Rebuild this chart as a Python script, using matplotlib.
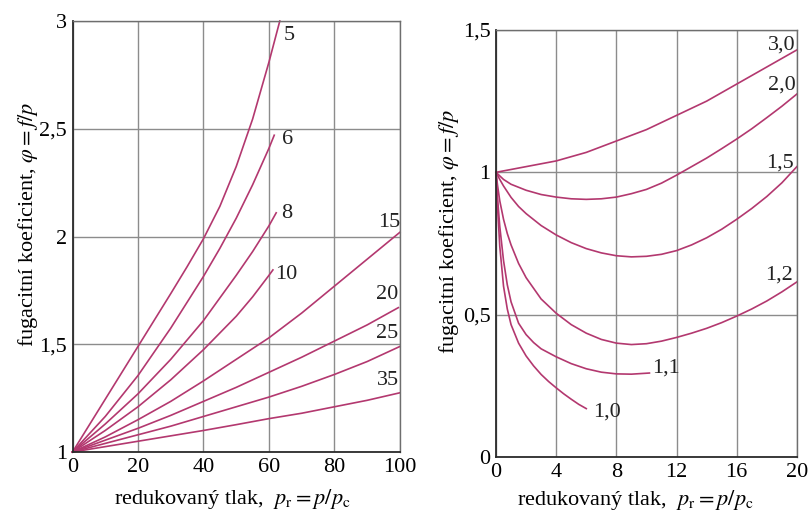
import numpy as np
import matplotlib
matplotlib.use("Agg")
import matplotlib.pyplot as plt

plt.rcParams['font.family'] = ['Liberation Serif', 'DejaVu Serif']
plt.rcParams['mathtext.fontset'] = 'stix'

# left panel: phi vs p_r for high reduced temperatures
left_curves = {
    "5":  ([0, 10, 20, 30, 35, 40, 45, 50, 55, 60, 63.3],
           [1.0, 1.245, 1.49, 1.735, 1.86, 1.99, 2.14, 2.325, 2.545, 2.81, 3.0]),
    "6":  ([0, 10, 20, 30, 40, 45, 50, 55, 60, 61.6],
           [1.0, 1.165, 1.355, 1.575, 1.815, 1.945, 2.085, 2.24, 2.41, 2.47]),
    "8":  ([0, 10, 20, 30, 40, 50, 55, 60, 62.2],
           [1.0, 1.13, 1.27, 1.43, 1.61, 1.82, 1.93, 2.05, 2.11]),
    "10": ([0, 10, 20, 30, 40, 50, 55, 60, 61.2],
           [1.0, 1.10, 1.21, 1.335, 1.475, 1.63, 1.72, 1.82, 1.845]),
    "15": ([0, 10, 20, 30, 40, 50, 60, 70, 80, 90, 100],
           [1.0, 1.07, 1.15, 1.235, 1.33, 1.43, 1.53, 1.645, 1.77, 1.895, 2.02]),
    "20": ([0, 10, 20, 30, 40, 50, 60, 70, 80, 90, 99.5],
           [1.0, 1.055, 1.11, 1.17, 1.235, 1.30, 1.37, 1.44, 1.515, 1.59, 1.67]),
    "25": ([0, 10, 20, 30, 40, 50, 60, 70, 80, 90, 100],
           [1.0, 1.04, 1.08, 1.12, 1.165, 1.21, 1.255, 1.305, 1.36, 1.42, 1.49]),
    "35": ([0, 10, 20, 30, 40, 50, 60, 70, 80, 90, 100],
           [1.0, 1.025, 1.05, 1.075, 1.10, 1.127, 1.155, 1.18, 1.21, 1.24, 1.275]),
}
left_label_pos = {
    "5": (66.3, 2.935), "6": (65.7, 2.449), "8": (65.4, 2.109),
    "10": (65.4, 1.822), "15": (96.8, 2.063), "20": (96.2, 1.729),
    "25": (96.2, 1.552), "35": (96.2, 1.334),
}

# right panel: low reduced temperatures
right_curves = {
    "3,0": ([0, 2, 4, 6, 8, 10, 12, 14, 16, 18, 20],
            [1.0, 1.02, 1.04, 1.07, 1.11, 1.15, 1.20, 1.25, 1.31, 1.37, 1.43]),
    "2,0": ([0, 0.5, 1, 2, 3, 4, 5, 6, 7, 8, 9, 10, 11, 12, 13, 14, 15, 16, 17, 18, 19, 20],
            [1.0, 0.975, 0.958, 0.937, 0.922, 0.913, 0.907, 0.905, 0.907, 0.913, 0.925,
             0.94, 0.962, 0.99, 1.02, 1.05, 1.083, 1.117, 1.153, 1.192, 1.232, 1.275]),
    "1,5": ([0, 0.25, 0.5, 1, 1.5, 2, 3, 4, 5, 6, 7, 8, 9, 10, 11, 12, 13, 14, 15, 16, 17, 18, 19, 20],
            [1.0, 0.975, 0.952, 0.912, 0.88, 0.855, 0.813, 0.78, 0.753, 0.732, 0.717, 0.707,
             0.703, 0.705, 0.712, 0.725, 0.745, 0.77, 0.80, 0.835, 0.873, 0.915, 0.963, 1.02]),
    "1,2": ([0, 0.1, 0.25, 0.5, 0.75, 1, 1.5, 2, 3, 4, 5, 6, 7, 8, 9, 10, 11, 12, 13, 14,
             15, 16, 17, 18, 19, 20],
            [1.0, 0.955, 0.9, 0.835, 0.785, 0.745, 0.68, 0.63, 0.555, 0.505, 0.465, 0.435,
             0.413, 0.40, 0.395, 0.398, 0.407, 0.42, 0.435, 0.452, 0.472, 0.495, 0.52, 0.548,
             0.58, 0.615]),
    "1,1": ([0, 0.1, 0.25, 0.5, 0.75, 1, 1.5, 2, 2.5, 3, 4, 5, 6, 7, 8, 9, 10.2],
            [1.0, 0.91, 0.81, 0.69, 0.605, 0.545, 0.47, 0.43, 0.402, 0.38, 0.352, 0.328,
             0.31, 0.298, 0.292, 0.291, 0.295]),
    "1,0": ([0, 0.1, 0.25, 0.5, 0.75, 1, 1.5, 2, 2.5, 3, 3.5, 4, 4.5, 5, 5.5, 6],
            [1.0, 0.88, 0.74, 0.6, 0.52, 0.465, 0.4, 0.355, 0.32, 0.29, 0.265, 0.243,
             0.222, 0.203, 0.185, 0.17]),
}
right_label_pos = {
    "3,0": (19.0, 1.447, 'center'), "2,0": (19.0, 1.307, 'center'),
    "1,5": (18.9, 1.033, 'center'), "1,2": (18.8, 0.639, 'center'),
    "1,1": (10.35, 0.313, 'left'), "1,0": (6.45, 0.158, 'left'),
}

curve_color = '#b3386f'
grid_color = '#8c8c8c'
fs = 16

fig = plt.figure(figsize=(8.11, 5.25), dpi=100)
axL = fig.add_axes([0.0894, 0.139, 0.4038, 0.821])
axR = fig.add_axes([0.6116, 0.1295, 0.371, 0.8134])


def style(ax, xticks, yticks, ylabels):
    ax.set_xticks(xticks)
    ax.set_yticks(yticks)
    ax.set_yticklabels(ylabels)
    ax.set_xlim(xticks[0], xticks[-1])
    ax.set_ylim(yticks[0], yticks[-1])
    ax.grid(True, color=grid_color, lw=1.0)
    ax.set_axisbelow(True)
    ax.tick_params(length=0, labelsize=fs, pad=4)
    for s in ('left', 'bottom'):
        ax.spines[s].set_color('#2a2a2a')
        ax.spines[s].set_linewidth(1.3)
    for s in ('top', 'right'):
        ax.spines[s].set_color('#6e6e6e')
        ax.spines[s].set_linewidth(1.0)
    ax.set_xlabel(r'redukovaný tlak,  $p_\mathrm{r} = p/p_\mathrm{c}$', fontsize=fs)
    ax.set_ylabel(r'fugacitní koeficient, $\varphi = f/p$', fontsize=fs)


style(axL, [0, 20, 40, 60, 80, 100], [1, 1.5, 2, 2.5, 3], ['1', '1,5', '2', '2,5', '3'])
style(axR, [0, 4, 8, 12, 16, 20], [0, 0.5, 1, 1.5], ['0', '0,5', '1', '1,5'])

for name, (xs, ys) in left_curves.items():
    axL.plot(xs, ys, color=curve_color, lw=1.2, clip_on=False)
    lx, ly = left_label_pos[name]
    axL.text(lx, ly, name, fontsize=fs, ha='center', va='center', color='#222222')

for name, (xs, ys) in right_curves.items():
    axR.plot(xs, ys, color=curve_color, lw=1.2, clip_on=False)
    lx, ly, ha = right_label_pos[name]
    axR.text(lx, ly, name, fontsize=fs, ha=ha, va='center', color='#222222')

axL.xaxis.set_label_coords(0.487, -0.081)
axL.yaxis.set_label_coords(-0.099, 0.527)
axR.xaxis.set_label_coords(0.464, -0.073)
axR.yaxis.set_label_coords(-0.117, 0.529)

fig.savefig('out.png', dpi=100)
